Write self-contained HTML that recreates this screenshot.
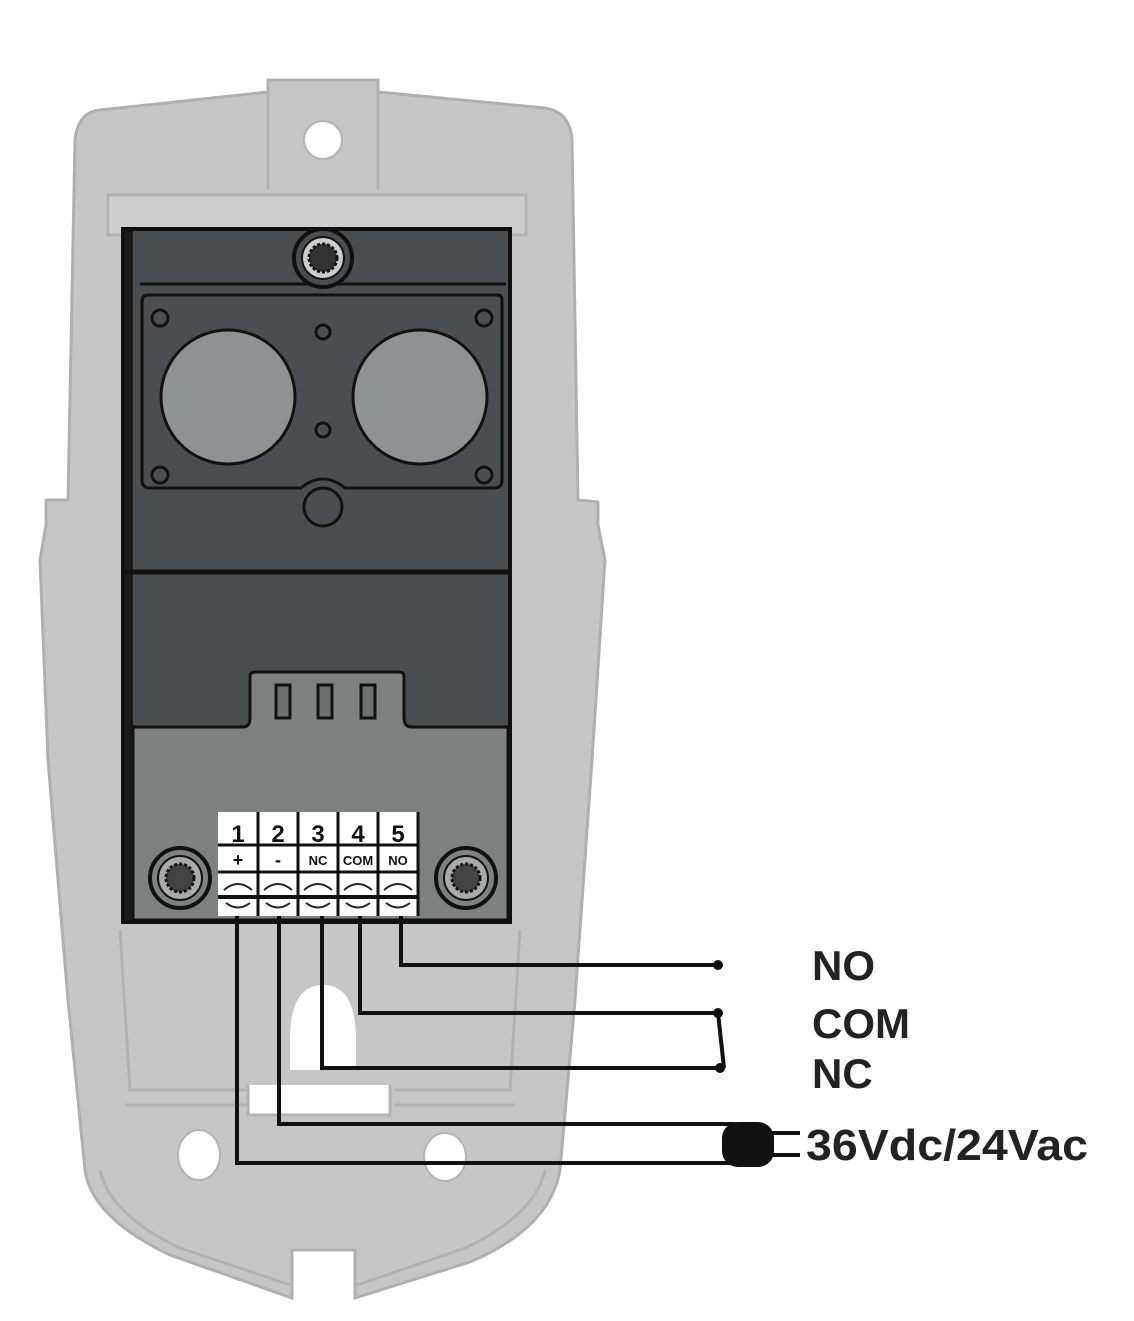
<!DOCTYPE html>
<html><head><meta charset="utf-8"><style>
html,body{margin:0;padding:0;background:#fff;}
svg{display:block;}
text{font-family:"Liberation Sans",sans-serif;font-weight:bold;}
</style></head><body>
<svg width="1134" height="1321" viewBox="0 0 1134 1321" xmlns="http://www.w3.org/2000/svg">
<!-- housing -->
<path d="M268 80 L378 80 L378 92 L545 108 Q570 112 572 140 L578 500 L598 502 L598 525 L605 560 L592 760 L575 1000 L560 1170 Q550 1228 470 1262 L355 1298 L355 1250 L292 1250 L292 1298 L170 1255 Q92 1218 85 1170 L68 1000 L48 760 L40 560 L46 525 L46 500 L68 500 L75 140 Q78 112 100 110 L268 92 Z" fill="#c6c6c6" stroke="#b0b0b0" stroke-width="3"/>
<path d="M268 92 L268 190 M378 92 L378 190" stroke="#b3b3b3" stroke-width="3" fill="none"/>
<path d="M100 1170 Q110 1215 180 1248 L290 1285 M545 1170 Q535 1215 465 1248 L357 1285" stroke="#b3b3b3" stroke-width="3" fill="none"/>
<rect x="108" y="195" width="418" height="40" fill="#cfcfcf" stroke="#b3b3b3" stroke-width="3"/>
<path d="M120 930 L130 1090 L250 1090 M520 930 L510 1090 L395 1090 M125 1105 L250 1105 M515 1105 L395 1105" stroke="#b3b3b3" stroke-width="3" fill="none"/>
<path d="M248 1085 L248 1115 L390 1115 L390 1085" fill="#fff" stroke="#b3b3b3" stroke-width="3"/>
<path d="M290 1040 Q290 985 323 985 Q356 985 356 1040 L356 1070 L290 1070 Z" fill="#fff"/>
<circle cx="323" cy="140" r="19" fill="#fff" stroke="#b3b3b3" stroke-width="2"/>
<ellipse cx="199" cy="1155" rx="21" ry="25" fill="#fff" stroke="#b3b3b3" stroke-width="2"/>
<ellipse cx="445" cy="1157" rx="21" ry="24" fill="#fff" stroke="#b3b3b3" stroke-width="2"/>
<!-- panel -->
<rect x="123" y="229" width="387" height="693" fill="#4b4e50" stroke="#111" stroke-width="4"/>
<rect x="125" y="231" width="8" height="689" fill="#1a1a1a"/>
<line x1="123" y1="572" x2="510" y2="572" stroke="#111" stroke-width="5"/>
<path d="M133 727 L243 727 Q250 727 250 718 L250 676 Q250 672 256 672 L398 672 Q404 672 404 676 L404 718 Q404 727 412 727 L508 727 L508 920 L133 920 Z" fill="#7f8181" stroke="#111" stroke-width="3"/>
<rect x="276" y="685" width="14" height="33" fill="#6e7070" stroke="#111" stroke-width="3"/>
<rect x="318" y="685" width="14" height="33" fill="#6e7070" stroke="#111" stroke-width="3"/>
<rect x="361" y="685" width="14" height="33" fill="#6e7070" stroke="#111" stroke-width="3"/>
<!-- plate -->
<path d="M148 295 L498 295 Q502 295 502 300 L502 480 Q502 488 494 488 L345 488 Q323 470 301 488 L150 488 Q142 488 142 480 L142 302 Q142 295 148 295 Z" fill="#4b4e50" stroke="#111" stroke-width="3"/>
<line x1="140" y1="284" x2="506" y2="284" stroke="#111" stroke-width="3"/>
<circle cx="228" cy="397" r="67" fill="#8f9292" stroke="#111" stroke-width="3"/>
<circle cx="420" cy="397" r="67" fill="#8f9292" stroke="#111" stroke-width="3"/>
<g fill="none" stroke="#111" stroke-width="3">
<circle cx="160" cy="318" r="8"/><circle cx="484" cy="318" r="8"/>
<circle cx="160" cy="475" r="8"/><circle cx="484" cy="475" r="8"/>
<circle cx="323" cy="332" r="7"/><circle cx="323" cy="430" r="7"/>
<circle cx="323" cy="507" r="19"/>
</g>
<!-- screws -->
<g>
<circle cx="323" cy="258" r="29" fill="#4b4e50" stroke="#111" stroke-width="4"/>
<circle cx="323" cy="258" r="21" fill="#ccc" stroke="#111" stroke-width="2"/>
<circle cx="323" cy="258" r="14" fill="#333" stroke="#111" stroke-dasharray="3 2" stroke-width="3"/>
<circle cx="180" cy="878" r="30" fill="#7f8181" stroke="#111" stroke-width="4"/>
<circle cx="180" cy="878" r="22" fill="#aaa" stroke="#111" stroke-width="2"/>
<circle cx="180" cy="878" r="14" fill="#444" stroke="#111" stroke-dasharray="3 2" stroke-width="3"/>
<circle cx="466" cy="878" r="30" fill="#7f8181" stroke="#111" stroke-width="4"/>
<circle cx="466" cy="878" r="22" fill="#aaa" stroke="#111" stroke-width="2"/>
<circle cx="466" cy="878" r="14" fill="#444" stroke="#111" stroke-dasharray="3 2" stroke-width="3"/>
</g>
<!-- terminal block -->
<rect x="218" y="812" width="200" height="104" fill="#fff"/>
<g stroke="#111" stroke-width="3">
<line x1="258" y1="812" x2="258" y2="916"/><line x1="298" y1="812" x2="298" y2="916"/>
<line x1="338" y1="812" x2="338" y2="916"/><line x1="378" y1="812" x2="378" y2="916"/>
<line x1="418" y1="812" x2="418" y2="916"/>
<line x1="218" y1="845" x2="418" y2="845"/><line x1="218" y1="872" x2="418" y2="872"/>
<line x1="218" y1="897" x2="418" y2="897" stroke-width="4"/>
</g>
<g fill="none" stroke="#222" stroke-width="2">
<path d="M224 890 Q238 878 252 890"/><path d="M264 890 Q278 878 292 890"/><path d="M304 890 Q318 878 332 890"/><path d="M344 890 Q358 878 372 890"/><path d="M384 890 Q398 878 412 890"/>
<path d="M226 903 Q238 912 250 903"/><path d="M266 903 Q278 912 290 903"/><path d="M306 903 Q318 912 330 903"/><path d="M346 903 Q358 912 370 903"/><path d="M386 903 Q398 912 410 903"/>
</g>
<g font-size="24" fill="#111" text-anchor="middle">
<text x="238" y="842">1</text><text x="278" y="842">2</text><text x="318" y="842">3</text><text x="358" y="842">4</text><text x="398" y="842">5</text>
</g>
<g font-size="13" fill="#111" text-anchor="middle">
<text x="238" y="866" font-size="18">+</text><text x="278" y="866" font-size="18">-</text><text x="318" y="865">NC</text><text x="358" y="865">COM</text><text x="398" y="865">NO</text>
</g>
<!-- wires -->
<g fill="none" stroke="#111" stroke-width="4">
<path d="M401 916 L401 965 L718 965"/>
<path d="M360 916 L360 1013 L718 1013"/>
<path d="M322 916 L322 1068 L720 1068"/>
<path d="M279 916 L279 1124 L735 1124"/>
<path d="M237 916 L237 1163 L735 1163"/>
<path d="M718 1013 L724 1068"/>
<path d="M772 1133 L800 1133 M772 1155 L800 1155"/>
</g>
<circle cx="718" cy="965" r="5" fill="#111"/>
<circle cx="718" cy="1013" r="5" fill="#111"/>
<circle cx="720" cy="1068" r="5" fill="#111"/>
<rect x="722" y="1122" width="52" height="45" rx="16" fill="#111"/>
<!-- labels -->
<g fill="#222">
<text x="812" y="980" font-size="42">NO</text>
<text x="812" y="1038" font-size="42">COM</text>
<text x="812" y="1088" font-size="42">NC</text>
<text x="806" y="1160" font-size="44" textLength="282" lengthAdjust="spacingAndGlyphs">36Vdc/24Vac</text>
</g>
</svg>
</body></html>
